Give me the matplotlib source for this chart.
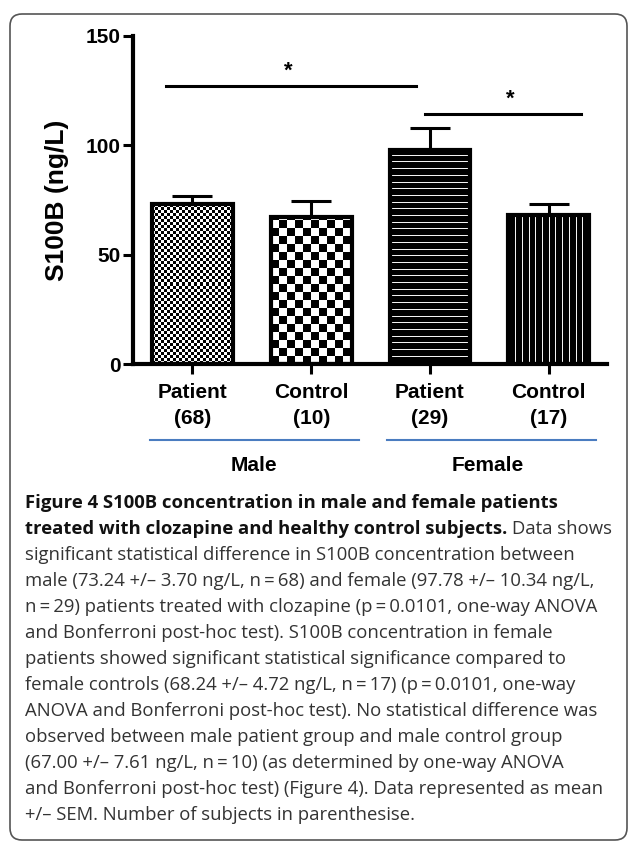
import matplotlib
matplotlib.use('Agg')
import matplotlib.pyplot as plt
import numpy as np
from matplotlib.patches import FancyBboxPatch

# data (mean +/- SEM, ng/L)
groups = ['Patient\n(68)', 'Control\n(10)', 'Patient\n(29)', 'Control\n(17)']
means = [73.24, 67.00, 97.78, 68.24]
sems = [3.70, 7.61, 10.34, 4.72]
fills = ['fine', 'checker', 'hstripe', 'vstripe']
sexes = ['Male', 'Female']
yticks = [0, 50, 100, 150]

caption = [
    "significant statistical difference in S100B concentration between",
    "male (73.24 +/\u2013 3.70 ng/L, n\u2009=\u200968) and female (97.78 +/\u2013 10.34 ng/L,",
    "n\u2009=\u200929) patients treated with clozapine (p\u2009=\u20090.0101, one-way ANOVA",
    "and Bonferroni post-hoc test). S100B concentration in female",
    "patients showed significant statistical significance compared to",
    "female controls (68.24 +/\u2013 4.72 ng/L, n\u2009=\u200917) (p\u2009=\u20090.0101, one-way",
    "ANOVA and Bonferroni post-hoc test). No statistical difference was",
    "observed between male patient group and male control group",
    "(67.00 +/\u2013 7.61 ng/L, n\u2009=\u200910) (as determined by one-way ANOVA",
    "and Bonferroni post-hoc test) (Figure 4). Data represented as mean",
    "+/\u2013 SEM. Number of subjects in parenthesise.",
]

W, H = 629, 842
plt.rcParams['font.family'] = ['Liberation Sans', 'DejaVu Sans']
fig = plt.figure(figsize=(W / 100, H / 100), dpi=100)
ax = fig.add_axes([133 / W, 1 - 364 / H, (607 - 133) / W, (364 - 36) / H])
ax.set_xlim(-0.5, 3.49)
ax.set_ylim(0, 150)

x = np.arange(len(means))
bars = ax.bar(x, means, width=0.68, facecolor='none', edgecolor='black',
              linewidth=3, zorder=3)

# pattern fills, built at pixel resolution
for bar, kind in zip(bars, fills):
    bx, bw, bh = bar.get_x(), bar.get_width(), bar.get_height()
    (px0, py0), (px1, py1) = ax.transData.transform([(bx, 0), (bx + bw, bh)])
    w, h = int(round(px1 - px0)), int(round(py1 - py0))
    jj, ii = np.meshgrid(np.arange(w), np.arange(h))
    if kind == 'fine':
        img = (ii // 3 + jj // 3) % 2
    elif kind == 'checker':
        img = (ii // 8 + jj // 8) % 2
    elif kind == 'hstripe':
        img = ((ii % 6.7) < 1.0).astype(float) * 0.95
    else:
        img = ((jj % 6.7) < 1.0).astype(float) * 0.95
    im = ax.imshow(img, cmap='gray', vmin=0, vmax=1, origin='lower',
                   extent=(bx, bx + bw, 0, bh), interpolation='nearest',
                   aspect='auto', zorder=1)
    im.set_clip_path(bar)

ax.set_xlim(-0.5, 3.49)
ax.set_ylim(0, 150)

ax.errorbar(x, means, yerr=[np.zeros(len(sems)), sems], fmt='none',
            ecolor='black', elinewidth=2.2, capsize=14.5, capthick=2.2, zorder=2)

for s in ['top', 'right']:
    ax.spines[s].set_visible(False)
for s in ['left', 'bottom']:
    ax.spines[s].set_linewidth(3)

ax.set_yticks(yticks)
ax.set_yticklabels([str(t) for t in yticks], fontweight='bold', fontsize=15)
ax.set_xticks(x)
ax.set_xticklabels(groups, fontweight='bold', fontsize=15, linespacing=1.45)
ax.tick_params(axis='y', width=2.2, length=7, pad=2)
ax.tick_params(axis='x', width=2.2, length=7, pad=7)
ax.set_ylabel('S100B (ng/L)', fontweight='bold', fontsize=19, labelpad=12)

# significance bars
ax.plot([-0.22, 1.88], [127, 127], color='black', lw=2.2, clip_on=False)
ax.text(0.81, 134, '*', ha='center', va='center', fontsize=16, fontweight='bold')
ax.plot([1.96, 3.27], [114.3, 114.3], color='black', lw=2.2, clip_on=False)
ax.text(2.68, 121, '*', ha='center', va='center', fontsize=16, fontweight='bold')

# group brackets
tr = ax.get_xaxis_transform()
for (a, b), lab, lx in zip([(-0.36, 1.40), (1.64, 3.40)], sexes, [0.52, 2.49]):
    ax.plot([a, b], [-0.232, -0.232], transform=tr, color='#4a7cc0', lw=1.5,
            clip_on=False)
    ax.text(lx, -0.308, lab, transform=tr, ha='center', va='center',
            fontsize=15, fontweight='bold')

# caption
cap_font = 'Open Sans'
fs = 13.3
y0, dy = 503, 26
def fy(py):
    return 1 - py / H

fig.text(25 / W, fy(y0), 'Figure 4 S100B concentration in male and female patients',
         fontfamily=cap_font, fontweight='bold', fontsize=fs, va='center', color='#111111')
t2 = fig.text(25 / W, fy(y0 + dy), 'treated with clozapine and healthy control subjects.',
              fontfamily=cap_font, fontweight='bold', fontsize=fs, va='center', color='#111111')
bb = t2.get_window_extent(fig.canvas.get_renderer())
fig.text((bb.x1 + 5) / W, fy(y0 + dy), 'Data shows', fontfamily=cap_font,
         fontsize=fs, va='center', color='#333333')
for i, line in enumerate(caption):
    fig.text(25 / W, fy(y0 + dy * (i + 2)), line, fontfamily=cap_font,
             fontsize=fs, va='center', color='#333333')

box = FancyBboxPatch((0.10, 0.02), 6.17, 8.26,
                     boxstyle='round,pad=0,rounding_size=0.12',
                     transform=fig.dpi_scale_trans, facecolor='none',
                     edgecolor='#555555', lw=1.2)
fig.add_artist(box)

fig.savefig('out.png', dpi=100)
